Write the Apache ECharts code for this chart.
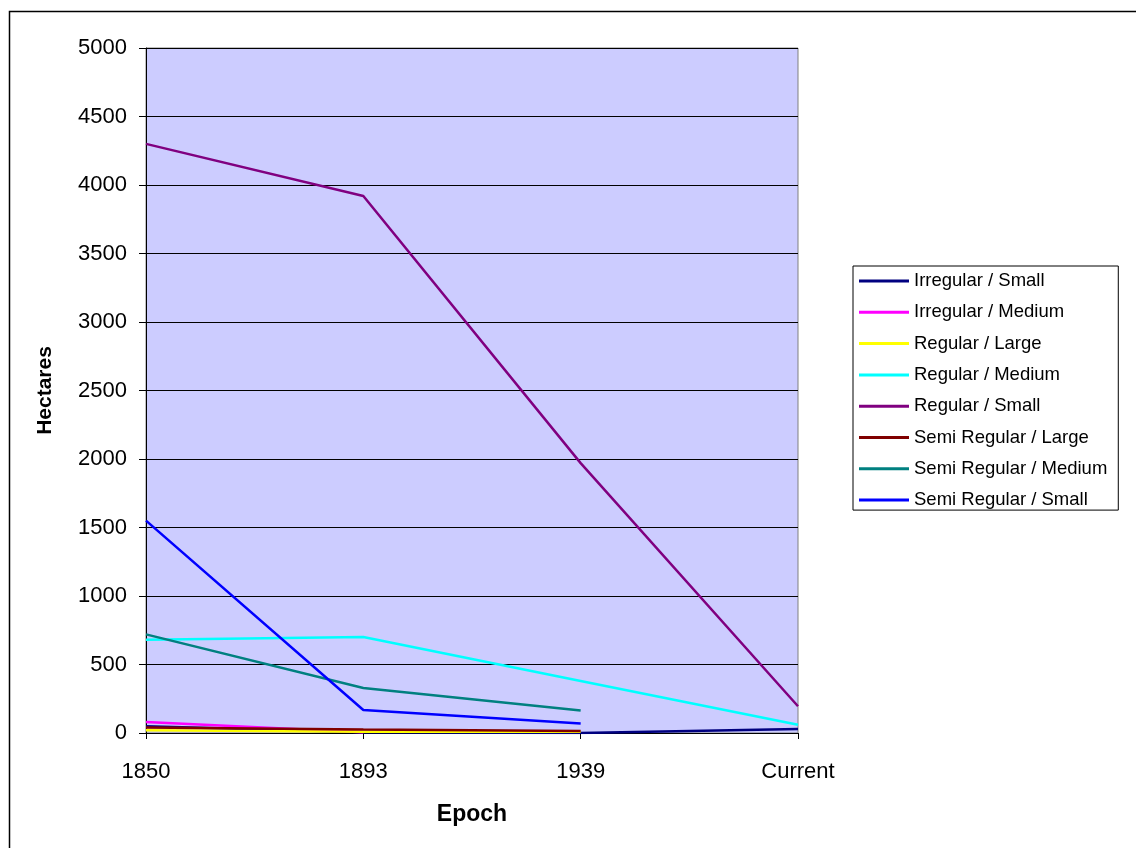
<!DOCTYPE html>
<html><head><meta charset="utf-8">
<script src="https://cdn.jsdelivr.net/npm/echarts@6/dist/echarts.min.js"></script>
<style>html,body{margin:0;padding:0;background:#fff}#c{width:1136px;height:848px}</style>
</head><body><div id="c"></div>
<script>
const categories = ['1850', '1893', '1939', 'Current'];
const seriesNames = ['Irregular / Small', 'Irregular / Medium', 'Regular / Large', 'Regular / Medium', 'Regular / Small', 'Semi Regular / Large', 'Semi Regular / Medium', 'Semi Regular / Small'];
const irregularSmall = [50, 5, 0, 30];
const irregularMedium = [80, 5, null, null];
const regularLarge = [20, 10, 10, null];
const regularMedium = [680, 700, 380, 60];
const regularSmall = [4300, 3920, 1970, 195];
const semiRegularLarge = [40, 25, 15, null];
const semiRegularMedium = [720, 328, 165, null];
const semiRegularSmall = [1550, 168, 70, null];
const yTicks = [0, 500, 1000, 1500, 2000, 2500, 3000, 3500, 4000, 4500, 5000];

const seriesData = [irregularSmall, irregularMedium, regularLarge, regularMedium, regularSmall, semiRegularLarge, semiRegularMedium, semiRegularSmall];
const colors = ['#000080', '#FF00FF', '#FFFF00', '#00FFFF', '#800080', '#800000', '#008080', '#0000FF'];
const font = 'Liberation Sans, Arial, sans-serif';

const chart = echarts.init(document.getElementById('c'), null, {renderer: 'canvas'});
chart.setOption({
  animation: false,
  color: colors,
  graphic: [{
    type: 'rect', left: 7, top: 9, z: -10, silent: true,
    shape: {width: 1200, height: 900},
    style: {fill: 'none', stroke: '#000', lineWidth: 1.5}
  }],
  grid: {left: 146, right: 338, top: 48, bottom: 115, show: true, backgroundColor: '#CCCCFF', borderColor: '#808080', borderWidth: 1},
  legend: {
    orient: 'vertical', left: 853, top: 266,
    data: seriesNames,
    icon: 'rect', itemWidth: 50, itemHeight: 3, itemGap: 11.3,
    padding: [5, 11, 0, 6],
    borderColor: '#000', borderWidth: 1, backgroundColor: '#fff',
    textStyle: {fontFamily: font, fontSize: 18.5, lineHeight: 20, color: '#000'}
  },
  xAxis: {
    type: 'category', data: categories, boundaryGap: false,
    name: 'Epoch', nameLocation: 'middle', nameGap: 70,
    nameTextStyle: {fontFamily: font, fontSize: 23, fontWeight: 'bold', color: '#000'},
    axisLine: {lineStyle: {color: '#000', width: 1}},
    axisTick: {show: true, inside: false, length: 6, lineStyle: {color: '#000'}},
    axisLabel: {fontFamily: font, fontSize: 22, color: '#000', margin: 28},
    splitLine: {show: false}
  },
  yAxis: {
    type: 'value', min: 0, max: 5000, interval: 500,
    name: 'Hectares', nameLocation: 'middle', nameGap: 90, nameRotate: 90,
    nameTextStyle: {fontFamily: font, fontSize: 21, fontWeight: 'bold', color: '#000'},
    axisLine: {show: true, lineStyle: {color: '#000', width: 1}},
    axisTick: {show: true, inside: false, length: 7, lineStyle: {color: '#000'}},
    axisLabel: {fontFamily: font, fontSize: 22, color: '#000', margin: 19,
      formatter: v => yTicks.indexOf(v) >= 0 ? String(v) : ''},
    splitLine: {show: true, lineStyle: {color: '#000', width: 1}}
  },
  series: seriesNames.map((n, i) => ({
    name: n, type: 'line', data: seriesData[i], symbol: 'none',
    connectNulls: false,
    lineStyle: {width: 2.5, color: colors[i]},
    itemStyle: {color: colors[i]}
  }))
});
</script></body></html>
